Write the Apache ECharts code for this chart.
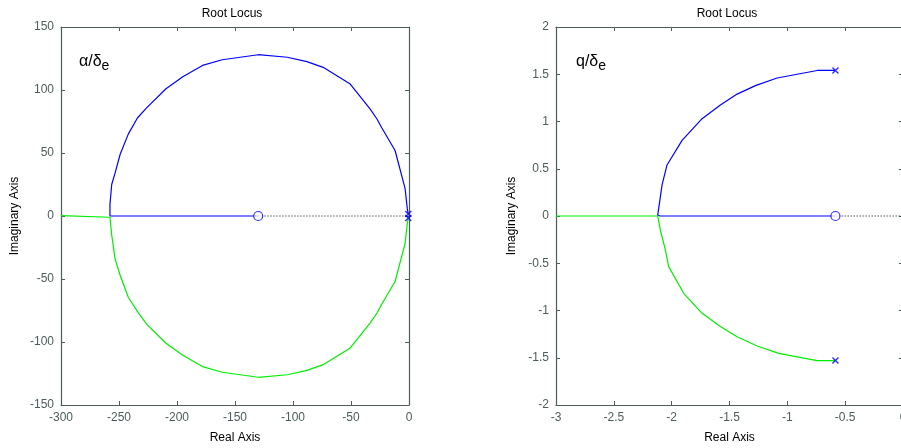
<!DOCTYPE html>
<html><head><meta charset="utf-8">
<script src="https://cdn.jsdelivr.net/npm/echarts@6/dist/echarts.min.js"></script>
<style>html,body{margin:0;padding:0;background:#fff}#c{width:901px;height:448px}</style>
</head><body><div id="c"></div>
<script>
// Left plot: alpha/delta_e root locus
const alphaBlue = [[-0.6,1.5],[-1.5,6],[-3.4,22],[-12,52],[-23.5,70],[-27.6,77],[-33.6,85],[-51,105],[-74,118],[-88,122.5],[-105,126],[-130,128],[-161,124],[-178,119.5],[-195,110.5],[-209.5,101],[-226,86],[-234,78],[-242,65],[-249,49],[-253.4,34],[-256.3,25],[-257.8,9],[-257.8,0],[-130,0]];
const alphaGreen = [[-0.6,-1.5],[-1.5,-6],[-3.4,-22],[-12,-52],[-23.5,-70],[-27.6,-77],[-33.6,-85],[-51,-105],[-74,-118],[-88,-122.5],[-105,-126],[-130,-128],[-161,-124],[-178,-119.5],[-195,-110.5],[-209.5,-101],[-226,-86],[-233.6,-76.5],[-242,-64.5],[-249,-47],[-253.4,-34],[-256.3,-15],[-257.8,-1],[-258,0],[-300,0.3]];
const alphaPoles = [[-0.6,1.5],[-0.6,-1.5]];
const alphaZeros = [[-130,0]];
// Right plot: q/delta_e root locus
const qBlue = [[-0.584,1.54],[-0.742,1.54],[-0.915,1.50],[-1.088,1.46],[-1.276,1.38],[-1.434,1.29],[-1.579,1.175],[-1.737,1.03],[-1.910,0.80],[-2.040,0.54],[-2.083,0.33],[-2.112,0.08],[-2.121,0.01],[-2.10,0],[-0.584,0]];
const qGreen = [[-0.584,-1.53],[-0.742,-1.53],[-0.915,-1.49],[-1.074,-1.453],[-1.261,-1.376],[-1.434,-1.277],[-1.579,-1.17],[-1.737,-1.03],[-1.896,-0.818],[-2.026,-0.536],[-2.054,-0.36],[-2.098,-0.148],[-2.121,0],[-3,0]];
const qPoles = [[-0.584,1.54],[-0.584,-1.53]];
const qZeros = [[-0.584,0]];
const leftX = {min:-300,max:0,interval:50};
const leftY = {min:-150,max:150,interval:50};
const rightX = {min:-3,max:0,interval:0.5};
const rightY = {min:-2,max:2,interval:0.5};

const AX = '#4c5c5c';
const FONT = 'Liberation Sans';
function mkAxis(r, gridIndex, pos, main, name, isY, gap) {
  return {
    type:'value', gridIndex, position:pos, min:r.min, max:r.max, interval:r.interval,
    name: main ? name : '', nameLocation:'middle', nameGap: gap || 27,
    nameRotate: isY ? 90 : 0,
    nameTextStyle:{color:'#000', fontFamily:FONT, fontSize:12},
    axisLine:{show:true, onZero:false, lineStyle:{color:AX, width:1.2}},
    axisTick:{show:true, inside:true, length:4, lineStyle:{color:AX}},
    axisLabel:{show:main, color:AX, fontFamily:FONT, fontSize:12, margin:7},
    splitLine:{show:false}
  };
}
const xSym = 'path://M0,0L10,10M10,0L0,10';
function lineS(data, color, xi, yi, z) {
  return {type:'line', data, xAxisIndex:xi, yAxisIndex:yi, showSymbol:false, symbol:'none',
    lineStyle:{color, width:1.2}, silent:true, z, animation:false};
}
function dotted(x0, x1, xi, yi) {
  return {type:'line', data:[[x0,0],[x1,0]], xAxisIndex:xi, yAxisIndex:yi, symbol:'none',
    lineStyle:{color:'#4a5a5a', width:1, type:[1.5,1.5]}, z:1, animation:false, silent:true};
}
function poles(data, xi, yi) {
  return {type:'scatter', data, xAxisIndex:xi, yAxisIndex:yi, symbol:xSym, symbolSize:6,
    itemStyle:{color:'none', borderColor:'#0000ff', borderWidth:1.4}, z:5, animation:false, silent:true};
}
function zeros(data, xi, yi) {
  return {type:'scatter', data, xAxisIndex:xi, yAxisIndex:yi, symbol:'circle', symbolSize:9,
    itemStyle:{color:'#fff', borderColor:'#0000ff', borderWidth:1.2}, z:5, animation:false, silent:true};
}
const chart = echarts.init(document.getElementById('c'));
chart.setOption({
  backgroundColor:'#fff',
  animation:false,
  title:[
    {text:'Root Locus', left:227, top:3, textAlign:'center', textStyle:{fontFamily:FONT, fontSize:12, fontWeight:'normal', color:'#000'}},
    {text:'Root Locus', left:722, top:3, textAlign:'center', textStyle:{fontFamily:FONT, fontSize:12, fontWeight:'normal', color:'#000'}}
  ],
  grid:[
    {left:61, top:27, width:348, height:378, outerBoundsMode:'none', containLabel:false},
    {left:556, top:27, width:347, height:378, outerBoundsMode:'none', containLabel:false}
  ],
  xAxis:[
    mkAxis(leftX,0,'bottom',true,'Real Axis',false,27),
    mkAxis(leftX,0,'top',false,'',false),
    mkAxis(rightX,1,'bottom',true,'Real Axis',false,27),
    mkAxis(rightX,1,'top',false,'',false)
  ],
  yAxis:[
    mkAxis(leftY,0,'left',true,'Imaginary Axis',true,40),
    mkAxis(leftY,0,'right',false,'',true),
    mkAxis(rightY,1,'left',true,'Imaginary Axis',true,38),
    mkAxis(rightY,1,'right',false,'',true)
  ],
  graphic:[
    {type:'text', left:79, top:54, style:{text:'α/δ{s|e}', font:'16px '+FONT, fill:'#000',
      rich:{s:{fontSize:14, fontFamily:FONT, padding:[8,0,0,0], verticalAlign:'bottom'}}}},
    {type:'text', left:576, top:54, style:{text:'q/δ{s|e}', font:'16px '+FONT, fill:'#000',
      rich:{s:{fontSize:14, fontFamily:FONT, padding:[8,0,0,0], verticalAlign:'bottom'}}}}
  ],
  series:[
    dotted(alphaZeros[0][0], leftX.max, 0, 0),
    lineS(alphaGreen,'#00ee00',0,0,2),
    lineS(alphaBlue,'#0000ff',0,0,3),
    poles(alphaPoles,0,0),
    zeros(alphaZeros,0,0),
    dotted(qZeros[0][0], rightX.max, 2, 2),
    lineS(qGreen,'#00ee00',2,2,2),
    lineS(qBlue,'#0000ff',2,2,3),
    poles(qPoles,2,2),
    zeros(qZeros,2,2)
  ]
});
</script></body></html>
